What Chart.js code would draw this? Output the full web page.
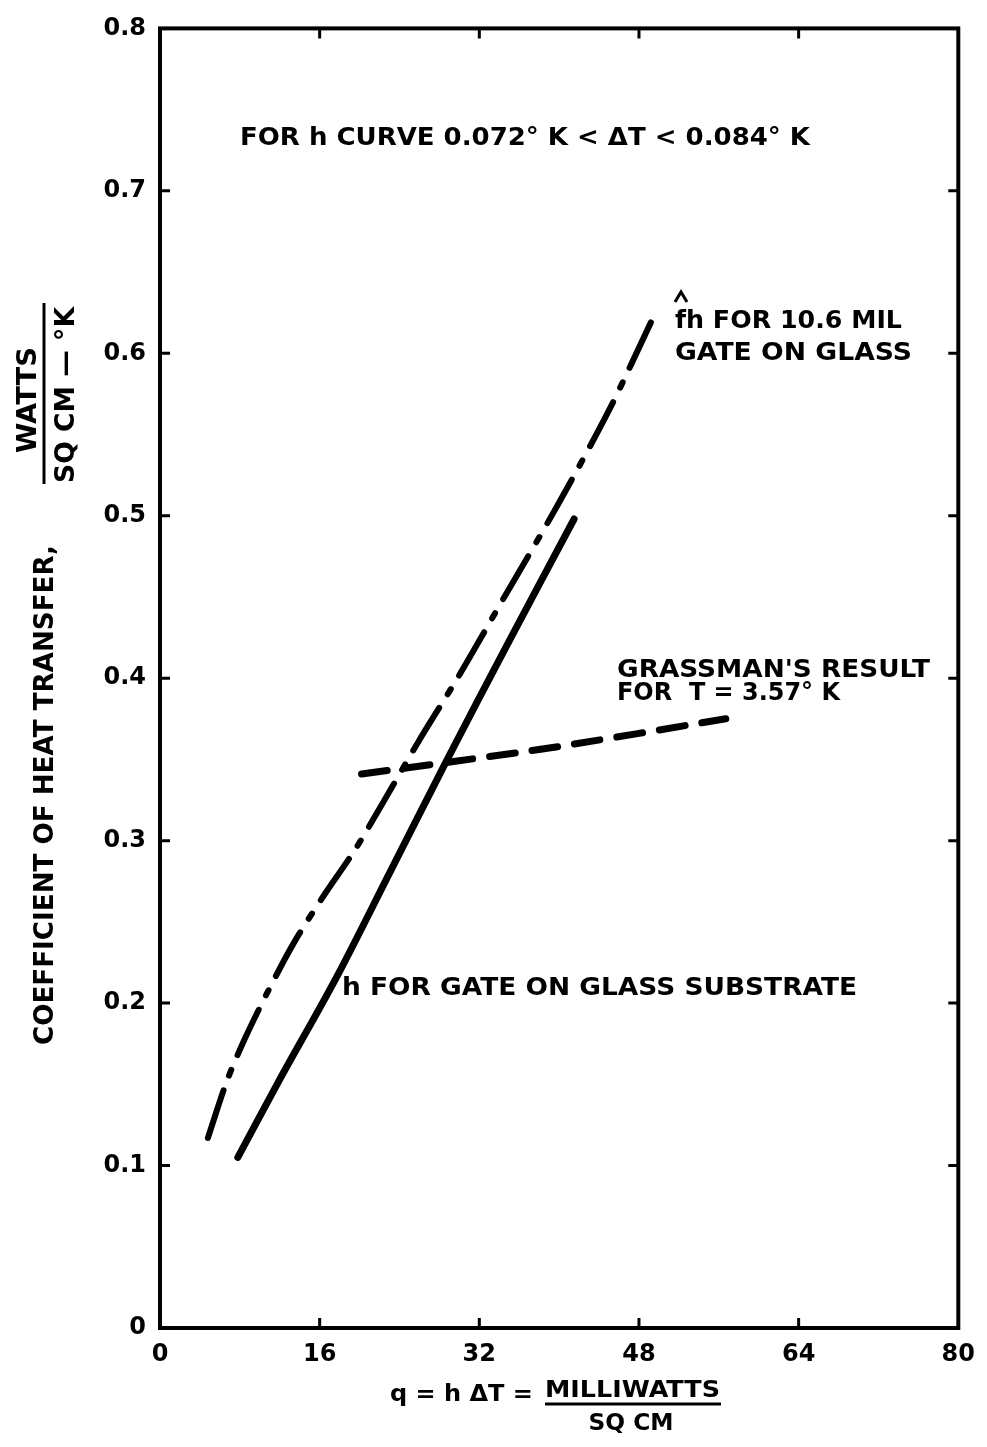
<!DOCTYPE html>
<html>
<head>
<meta charset="utf-8">
<script src="https://cdn.jsdelivr.net/npm/chart.js@4"></script>
<style>
  html, body { margin: 0; padding: 0; background: #fff; }
  canvas { display: block; }
</style>
</head>
<body>
<canvas id="chartHeat" width="987" height="1447"></canvas>
<script>
// --- data ---
// solid curve: h for gate on glass substrate
const hQ   = [7.8, 12, 17.7, 23, 28.7, 35, 41.5];
const hVal = [0.105, 0.153, 0.216, 0.28, 0.349, 0.423, 0.498];

// dash-dot curve: fh for 10.6 mil gate on glass
const fhQ   = [4.8, 6.7, 8.5, 10.8, 13.5, 16.5, 19.5, 22.5, 26, 30, 34.7, 39.8, 45, 49.5];
const fhVal = [0.117, 0.152, 0.178, 0.207, 0.238, 0.267, 0.294, 0.325, 0.362, 0.402, 0.452, 0.506, 0.565, 0.623];

// dashed line: Grassman's result
const gQ   = [20.2, 39, 56.7];
const gVal = [0.341, 0.357, 0.375];

// axis ticks
const xTicks = [0, 16, 32, 48, 64, 80];
const yTicks = [0, 0.1, 0.2, 0.3, 0.4, 0.5, 0.6, 0.7, 0.8];

const FONT = '"DejaVu Sans", sans-serif';

function pts(xs, ys) {
    return xs.map((x, i) => ({ x: x, y: ys[i] }));
}

// texte gras, étiré/comprimé pour tenir dans une largeur donnée
function label(ctx, str, x, y, size, width, align) {
    ctx.save();
    ctx.font = 'bold ' + size + 'px ' + FONT;
    ctx.textBaseline = 'alphabetic';
    ctx.textAlign = 'left';
    const w = ctx.measureText(str).width;
    const sx = width ? width / w : 1;
    let x0 = x;
    if (align === 'center') x0 = x - (w * sx) / 2;
    ctx.translate(x0, y);
    ctx.scale(sx, 1);
    ctx.fillStyle = '#000';
    ctx.fillText(str, 0, 0);
    ctx.restore();
}

const framePlugin = {
    id: 'frame',
    afterDraw(chart) {
        const ctx = chart.ctx;
        const a = chart.chartArea;
        const xs = chart.scales.x, ys = chart.scales.y;
        ctx.save();
        ctx.strokeStyle = '#000';
        ctx.lineWidth = 4;
        ctx.strokeRect(a.left, a.top, a.right - a.left, a.bottom - a.top);

        // inward ticks on all four sides
        ctx.lineWidth = 3;
        const len = 10;
        xTicks.slice(1, -1).forEach(v => {
            const px = xs.getPixelForValue(v);
            ctx.beginPath();
            ctx.moveTo(px, a.bottom); ctx.lineTo(px, a.bottom - len);
            ctx.moveTo(px, a.top);    ctx.lineTo(px, a.top + len);
            ctx.stroke();
        });
        yTicks.slice(1, -1).forEach(v => {
            const py = ys.getPixelForValue(v);
            ctx.beginPath();
            ctx.moveTo(a.left, py);  ctx.lineTo(a.left + len, py);
            ctx.moveTo(a.right, py); ctx.lineTo(a.right - len, py);
            ctx.stroke();
        });
        ctx.restore();

        // annotations
        label(ctx, 'FOR h CURVE 0.072° K < ΔT < 0.084° K', 240, 145, 25, 570);
        label(ctx, 'fh FOR 10.6 MIL', 675, 328, 24, 227);
        // chapeau sur le f
        ctx.save();
        ctx.lineWidth = 3;
        ctx.beginPath();
        ctx.moveTo(675, 302); ctx.lineTo(681, 292); ctx.lineTo(687, 302);
        ctx.stroke();
        ctx.restore();
        label(ctx, 'GATE ON GLASS', 675, 360, 24, 237);
        label(ctx, "GRASSMAN'S RESULT", 617, 677, 24, 313);
        label(ctx, 'FOR  T = 3.57° K', 617, 700, 24, 223);
        label(ctx, 'h FOR GATE ON GLASS SUBSTRATE', 342, 995, 24, 515);

        // x axis title
        label(ctx, 'q = h ΔT =', 390, 1401, 23, 143);
        label(ctx, 'MILLIWATTS', 545, 1397, 23, 175);
        ctx.save();
        ctx.lineWidth = 3;
        ctx.beginPath();
        ctx.moveTo(545, 1404); ctx.lineTo(721, 1404);
        ctx.stroke();
        ctx.restore();
        label(ctx, 'SQ CM', 631, 1430, 23, 85, 'center');

        // y axis title (rotated)
        ctx.save();
        ctx.translate(53, 795);
        ctx.rotate(-Math.PI / 2);
        label(ctx, 'COEFFICIENT OF HEAT TRANSFER,', 0, 0, 27, 500, 'center');
        ctx.restore();

        ctx.save();
        ctx.translate(36, 400);
        ctx.rotate(-Math.PI / 2);
        label(ctx, 'WATTS', 0, 0, 27, 106, 'center');
        ctx.restore();

        ctx.save();
        ctx.lineWidth = 3;
        ctx.beginPath();
        ctx.moveTo(44, 303); ctx.lineTo(44, 484);
        ctx.stroke();
        ctx.restore();

        ctx.save();
        ctx.translate(74, 395);
        ctx.rotate(-Math.PI / 2);
        label(ctx, 'SQ CM — °K', 0, 0, 27, 176, 'center');
        ctx.restore();
    }
};

new Chart(document.getElementById('chartHeat'), {
    type: 'scatter',
    data: {
        datasets: [
            {
                label: 'h',
                data: pts(hQ, hVal),
                showLine: true,
                borderColor: '#000',
                borderWidth: 7,
                borderCapStyle: 'round',
                tension: 0.3,
                pointRadius: 0
            },
            {
                label: 'fh',
                data: pts(fhQ, fhVal),
                showLine: true,
                borderColor: '#000',
                borderWidth: 6,
                borderCapStyle: 'round',
                borderDash: [50, 16, 6, 16],
                tension: 0.3,
                pointRadius: 0
            },
            {
                label: 'Grassman',
                data: pts(gQ, gVal),
                showLine: true,
                borderColor: '#000',
                borderWidth: 7,
                borderCapStyle: 'round',
                borderDash: [26, 17],
                tension: 0.2,
                pointRadius: 0
            }
        ]
    },
    options: {
        responsive: false,
        animation: false,
        layout: { padding: { top: 24, right: 27, left: 0, bottom: 0 } },
        plugins: {
            legend: { display: false },
            tooltip: { enabled: false }
        },
        scales: {
            x: {
                type: 'linear',
                min: 0,
                max: 80,
                afterFit: s => { s.height = 119; },
                afterBuildTicks: s => { s.ticks = xTicks.map(v => ({ value: v })); },
                grid: { display: false, drawTicks: false },
                border: { display: false },
                ticks: {
                    color: '#000',
                    padding: 12,
                    font: { family: FONT, size: 24, weight: 'bold' },
                    callback: v => String(v)
                }
            },
            y: {
                type: 'linear',
                min: 0,
                max: 0.8,
                afterFit: s => { s.width = 160; },
                afterBuildTicks: s => { s.ticks = yTicks.map(v => ({ value: v })); },
                grid: { display: false, drawTicks: false },
                border: { display: false },
                ticks: {
                    color: '#000',
                    padding: 14,
                    font: { family: FONT, size: 24, weight: 'bold' },
                    callback: v => (v === 0 ? '0' : v.toFixed(1))
                }
            }
        }
    },
    plugins: [framePlugin]
});
</script>
</body>
</html>
